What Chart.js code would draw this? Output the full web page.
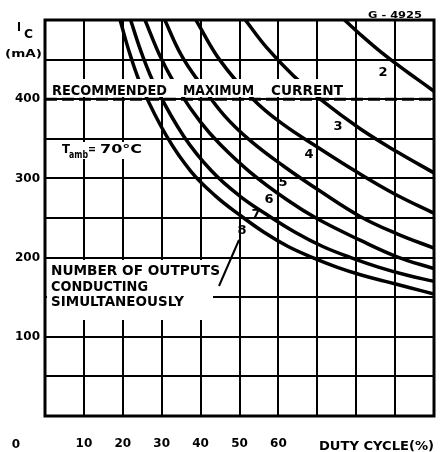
<!DOCTYPE html>
<html><head><meta charset="utf-8">
<script src="https://cdn.jsdelivr.net/npm/chart.js@4/dist/chart.umd.min.js"></script>
<style>html,body{margin:0;padding:0;background:#fff}#wrap{width:442px;height:452px;position:relative}</style>
</head><body><div id="wrap"><canvas id="c" width="442" height="452"></canvas></div>
<script>
// ---- data ----
const xTickLabels = [10, 20, 30, 40, 50, 60];
const yTickLabels = [100, 200, 300, 400];
const recommendedMax = 400;
const curveNames = ['2', '3', '4', '5', '6', '7', '8'];
const duty2 = [77, 81, 86, 91, 95.5, 100];
const ic2   = [500, 482, 461, 442, 426, 410];
const duty3 = [51.5, 57, 63.8, 71, 81.2, 90.7, 100];
const ic3   = [500, 465, 430, 399, 362, 333, 307];
const duty4 = [38.8, 45, 53.5, 60.7, 70.5, 80.5, 90, 100];
const ic4   = [500, 449, 400, 370, 338, 307, 280, 256];
const duty5 = [30.8, 35, 40, 46, 52.7, 61.2, 70.7, 81, 90.5, 100];
const ic5   = [500, 456, 419, 380, 348, 316, 284, 252, 230, 212];
const duty6 = [25.7, 30, 35, 40, 45, 52.7, 62.2, 70, 81, 90.5, 100];
const ic6   = [500, 450, 406, 371, 343, 308, 273, 249, 222, 201, 186];
const duty7 = [22, 25, 28.6, 35.7, 42.9, 50, 57.1, 64.3, 71.4, 78.6, 85.7, 92.9, 100];
const ic7   = [500, 456, 414, 353, 309, 278, 254, 232, 214, 200, 188, 178, 170];
const duty8 = [19.3, 21.9, 25, 31.3, 37.5, 43.8, 50, 56.3, 62.5, 68.8, 75, 81.3, 87.5, 93.8, 100];
const ic8   = [500, 456, 414, 353, 309, 278, 254, 232, 214, 200, 188, 178, 170, 162, 154];

const dutyAll = [duty2, duty3, duty4, duty5, duty6, duty7, duty8];
const icAll = [ic2, ic3, ic4, ic5, ic6, ic7, ic8];

const FAM = '"DejaVu Sans", sans-serif';
const INK = '#000';

const datasets = curveNames.map((n, i) => ({
  label: n,
  data: dutyAll[i].map((d, k) => ({x: d, y: icAll[i][k]})),
  borderColor: INK, borderWidth: 3.5, pointRadius: 0,
  tension: 0.4, fill: false
}));
datasets.push({
  label: 'recommended', data: [{x: 0, y: recommendedMax}, {x: 100, y: recommendedMax}],
  borderColor: INK, borderWidth: 3, borderDash: [12, 5], pointRadius: 0, fill: false
});

function fitText(ctx, txt, x, yBase, w, size) {
  ctx.save();
  ctx.font = 'bold ' + size + 'px ' + FAM;
  ctx.textAlign = 'left'; ctx.textBaseline = 'alphabetic';
  const m = ctx.measureText(txt).width;
  ctx.translate(x, yBase);
  ctx.scale(w / m, 1);
  ctx.fillStyle = INK;
  ctx.fillText(txt, 0, 0);
  ctx.restore();
}
function whiteBox(ctx, x, y, w, h) { ctx.save(); ctx.fillStyle = '#fff'; ctx.fillRect(x, y, w, h); ctx.restore(); }

const overlay = {
  id: 'overlay',
  afterDatasetsDraw(chart) {
    const ctx = chart.ctx, a = chart.chartArea;
    whiteBox(ctx, 47, 79, 298, 18);
    fitText(ctx, 'RECOMMENDED', 52, 94.5, 115, 14);
    fitText(ctx, 'MAXIMUM', 183, 94.5, 71, 14);
    fitText(ctx, 'CURRENT', 271, 94.5, 72, 14);
    whiteBox(ctx, 59, 142, 86, 17);
    fitText(ctx, 'T', 62, 152.5, 8, 13);
    fitText(ctx, 'amb', 69, 158, 19, 10);
    fitText(ctx, '=', 88, 152.5, 8, 13);
    fitText(ctx, '70°C', 100, 153, 42, 13);
    whiteBox(ctx, 47, 260, 166, 60);
    fitText(ctx, 'NUMBER OF OUTPUTS', 51, 274.5, 169, 13.5);
    fitText(ctx, 'CONDUCTING', 51, 290.5, 97, 13.5);
    fitText(ctx, 'SIMULTANEOUSLY', 51, 306, 133, 13.5);
    ctx.save();
    ctx.strokeStyle = INK; ctx.lineWidth = 2;
    ctx.beginPath(); ctx.moveTo(219, 286); ctx.lineTo(239, 240); ctx.stroke();
    ctx.restore();
    const lbl = [['2', 383, 73], ['3', 338, 127], ['4', 309, 155], ['5', 283, 183], ['6', 269, 200], ['7', 256, 215], ['8', 242, 231]];
    ctx.save();
    ctx.font = 'bold 13px ' + FAM; ctx.fillStyle = INK; ctx.textAlign = 'center'; ctx.textBaseline = 'middle';
    lbl.forEach(l => ctx.fillText(l[0], l[1], l[2]));
    ctx.restore();
    ctx.save(); ctx.strokeStyle = INK; ctx.lineWidth = 3;
    ctx.strokeRect(a.left, a.top, a.right - a.left, a.bottom - a.top);
    ctx.restore();
  },
  afterDraw(chart) {
    const ctx = chart.ctx;
    ctx.save();
    ctx.fillStyle = INK; ctx.textBaseline = 'middle'; ctx.textAlign = 'center';
    ctx.font = 'bold 12px ' + FAM;
    ctx.fillText('0', 16, 445);
    ctx.restore();
    fitText(ctx, 'DUTY CYCLE(%)', 319, 450, 115, 12);
    fitText(ctx, 'I', 17, 31, 4, 13);
    fitText(ctx, 'C', 24, 38, 9, 12);
    fitText(ctx, '(mA)', 5, 57, 37, 11);
    fitText(ctx, 'G - 4925', 368, 18, 54, 9);
  }
};

new Chart(document.getElementById('c'), {
  type: 'line',
  data: {datasets},
  options: {
    responsive: false, animation: false, events: [],
    layout: {padding: {top: 20, right: 8, left: 0, bottom: 0}},
    plugins: {legend: {display: false}, tooltip: {enabled: false}},
    scales: {
      x: {
        type: 'linear', min: 0, max: 100,
        afterFit: s => { s.height = 36; s.paddingRight = 0; s.paddingLeft = 0; },
        border: {display: false},
        grid: {color: INK, lineWidth: 2, drawTicks: false},
        ticks: {stepSize: 10, padding: 21, maxRotation: 0, autoSkip: false, color: INK, font: {family: FAM, weight: 'bold', size: 12},
          callback: v => xTickLabels.includes(v) ? String(v) : ''}
      },
      y: {
        type: 'linear', min: 0, max: 500,
        afterFit: s => { s.width = 45; s.paddingTop = 0; s.paddingBottom = 0; },
        border: {display: false},
        grid: {color: INK, lineWidth: 2, drawTicks: false},
        ticks: {stepSize: 50, padding: 5, color: INK, font: {family: FAM, weight: 'bold', size: 12},
          callback: v => yTickLabels.includes(v) ? String(v) : ''}
      }
    }
  },
  plugins: [overlay]
});
</script></body></html>
